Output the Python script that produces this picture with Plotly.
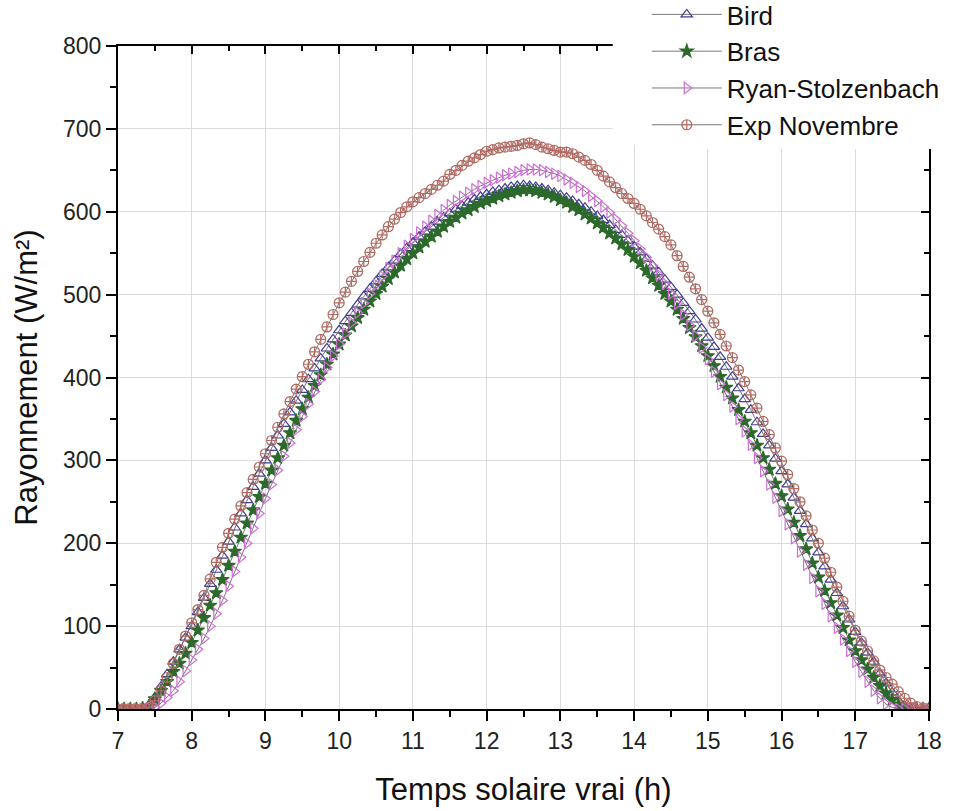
import numpy as np
import plotly.graph_objects as go

# time axis: 7h to 18h, one reading every 5 minutes
hours = [round(7 + i / 12, 4) for i in range(133)]

bird = [0, 0, 0, 0, 1, 4, 14, 27, 42, 57, 72, 86, 100, 117, 134, 151, 168, 185, 202, 219, 236, 252, 268, 284,
        300, 315, 330, 344, 358, 372, 385, 398, 411, 423, 435, 446, 457, 468, 478, 488, 498, 507, 516, 525, 533,
        541, 549, 556, 563, 570, 576, 582, 588, 593, 598, 603, 607, 611, 615, 618, 621, 624, 626, 628, 630, 631,
        632,
        631, 630, 628, 626, 623, 620, 617, 613, 609, 605, 600, 595, 590, 584, 578, 572, 565, 558, 551, 543, 535,
        527, 518, 509, 500, 490, 480, 470, 459, 448, 437, 425, 413, 401, 387, 374, 361, 346, 332, 318, 302, 287,
        271, 255, 239, 223, 206, 189, 172, 156, 140, 124, 108, 93, 80, 68, 57, 43, 31, 20, 10, 4, 1, 0, 0, 0]

bras = [0, 0, 0, 0, 1, 3, 12, 22, 33, 45, 55, 67, 80, 95, 110, 125, 140, 156, 173, 190, 207, 224, 240, 256,
        272, 288, 303, 318, 333, 348, 362, 376, 390, 403, 416, 428, 440, 451, 462, 472, 482, 492, 501, 510, 519,
        527, 535, 543, 550, 557, 564, 570, 576, 582, 588, 593, 598, 602, 606, 610, 613, 616, 619, 621, 623, 625,
        626,
        626, 625, 623, 621, 618, 614, 611, 606, 602, 597, 592, 586, 581, 574, 568, 561, 554, 546, 538, 529, 520,
        511, 501, 492, 482, 471, 460, 449, 438, 426, 414, 401, 388, 375, 361, 347, 333, 318, 303, 289, 272, 257,
        241, 225, 209, 193, 176, 159, 143, 128, 113, 98, 83, 70, 59, 48, 38, 28, 19, 11, 5, 2, 0, 0, 0, 0]

ryan = [0, 0, 0, 0, 0, 1, 2, 7, 14, 22, 33, 46, 59, 72, 85, 100, 115, 131, 148, 166, 183, 200, 218, 236,
        254, 271, 288, 305, 321, 337, 353, 368, 383, 398, 412, 426, 440, 453, 466, 478, 490, 501, 512, 522, 532,
        541, 550, 559, 567, 575, 582, 589, 596, 602, 608, 613, 618, 623, 627, 631, 635, 638, 641, 644, 646, 648,
        650,
        651, 651, 650, 648, 646, 643, 639, 635, 630, 625, 619, 613, 606, 599, 591, 583, 574, 565, 555, 545, 535,
        524, 513, 501, 489, 476, 463, 450, 436, 422, 407, 392, 379, 365, 350, 335, 319, 303, 287, 271, 255, 239,
        223, 206, 190, 174, 158, 142, 127, 112, 98, 84, 70, 57, 45, 33, 22, 13, 6, 2, 0, 0, 0, 0, 0, 0]

exp_nov = [0, 0, 0, 0, 0, 2, 10, 22, 38, 55, 72, 88, 104, 120, 137, 157, 177, 195, 212, 229, 245, 261, 277, 292,
           308, 324, 340, 356, 371, 386, 401, 416, 431, 446, 461, 476, 490, 503, 516, 528, 540, 551, 562, 572, 582,
           591, 599, 606, 612, 617, 622, 627, 632, 637, 645, 650, 656, 661, 665, 669, 673, 675, 677, 678, 679, 680,
           682,
           683, 681, 678, 676, 674, 672, 672, 670, 666, 662, 657, 650, 643, 636, 629, 622, 616, 610, 603, 595, 587,
           579, 570, 560, 547, 534, 521, 507, 494, 480, 466, 452, 438, 424, 409, 395, 379, 363, 347, 331, 315, 299,
           283, 266, 250, 233, 216, 200, 182, 165, 147, 130, 112, 95, 82, 70, 58, 47, 38, 30, 21, 13, 7, 3, 1, 0]

names = ["Bird", "Bras", "Ryan-Stolzenbach", "Exp Novembre"]
x_ticks = list(range(7, 19))
y_ticks = list(range(0, 801, 100))

series = [bird, bras, ryan, exp_nov]
styles = [
    dict(symbol="triangle-up-open", color="#3f3f8f", size=10),
    dict(symbol="star", color="#2c6a2c", size=10),
    dict(symbol="triangle-right-open", color="#cf6fd6", size=10),
    dict(symbol="circle-cross-open", color="#b36a62", size=10),
]

fig = go.Figure()
for name, vals, st in zip(names, series, styles):
    assert len(vals) == len(hours), (name, len(vals))
    fig.add_trace(go.Scatter(
        x=hours, y=vals, name=name, mode="lines+markers",
        legendgroup=name,
        line=dict(color="#555555", width=0.8),
        marker=dict(symbol=st["symbol"], size=st["size"], color=st["color"],
                    line=dict(color=st["color"], width=1.2)),
    ))

# invisible trace to activate mirrored top/right axes
fig.add_trace(go.Scatter(x=hours, y=bird, xaxis="x2", yaxis="y2", mode="markers",
                         marker=dict(opacity=0), showlegend=False, hoverinfo="skip"))

font_family = "Liberation Sans, Arial, sans-serif"
fig.update_layout(
    width=963, height=811,
    margin=dict(l=118, r=34, t=46, b=102, autoexpand=False),
    paper_bgcolor="white", plot_bgcolor="white",
    font=dict(family=font_family, color="#222222"),
    xaxis=dict(range=[7, 18], tickvals=x_ticks, ticks="outside", ticklen=10, tickwidth=2,
               tickcolor="black", showline=True, linewidth=2, linecolor="black",
               showgrid=True, gridcolor="#dcdcdc", gridwidth=1, zeroline=False,
               tickfont=dict(size=23, color="#222"),
               minor=dict(dtick=0.5, ticks="outside", ticklen=6, tickwidth=2, tickcolor="black", showgrid=False),
               title=dict(text="Temps solaire vrai (h)", font=dict(size=31, color="#111"), standoff=26)),
    yaxis=dict(range=[0, 800], tickvals=y_ticks, ticks="outside", ticklen=10, tickwidth=2,
               tickcolor="black", showline=True, linewidth=2, linecolor="black",
               showgrid=True, gridcolor="#dcdcdc", gridwidth=1, zeroline=False,
               tickfont=dict(size=23, color="#222"),
               minor=dict(dtick=50, ticks="outside", ticklen=6, tickwidth=2, tickcolor="black", showgrid=False),
               title=dict(text="Rayonnement (W/m²)", font=dict(size=31, color="#111"), standoff=16)),
    xaxis2=dict(range=[7, 18], overlaying="x", side="top", tickvals=x_ticks, ticks="inside", ticklen=8,
                tickwidth=2, tickcolor="black", showline=True, linewidth=2, linecolor="black",
                showgrid=False, showticklabels=False, zeroline=False,
                minor=dict(dtick=0.5, ticks="inside", ticklen=5, tickwidth=2, tickcolor="black")),
    yaxis2=dict(range=[0, 800], overlaying="y", side="right", tickvals=y_ticks, ticks="inside", ticklen=8,
                tickwidth=2, tickcolor="black", showline=True, linewidth=2, linecolor="black",
                showgrid=False, showticklabels=False, zeroline=False,
                minor=dict(dtick=50, ticks="inside", ticklen=5, tickwidth=2, tickcolor="black")),
    legend=dict(x=0.652, y=1.083, xanchor="left", yanchor="top", bgcolor="white",
                borderwidth=0, font=dict(size=26, color="#111"), itemwidth=70,
                tracegroupgap=0),
    shapes=[dict(type="rect", xref="paper", yref="paper", x0=0.610, x1=1.06, y0=0.851, y1=1.08,
                 fillcolor="white", line=dict(width=0), layer="above")],
    showlegend=True,
)

fig.write_html("out.html")
